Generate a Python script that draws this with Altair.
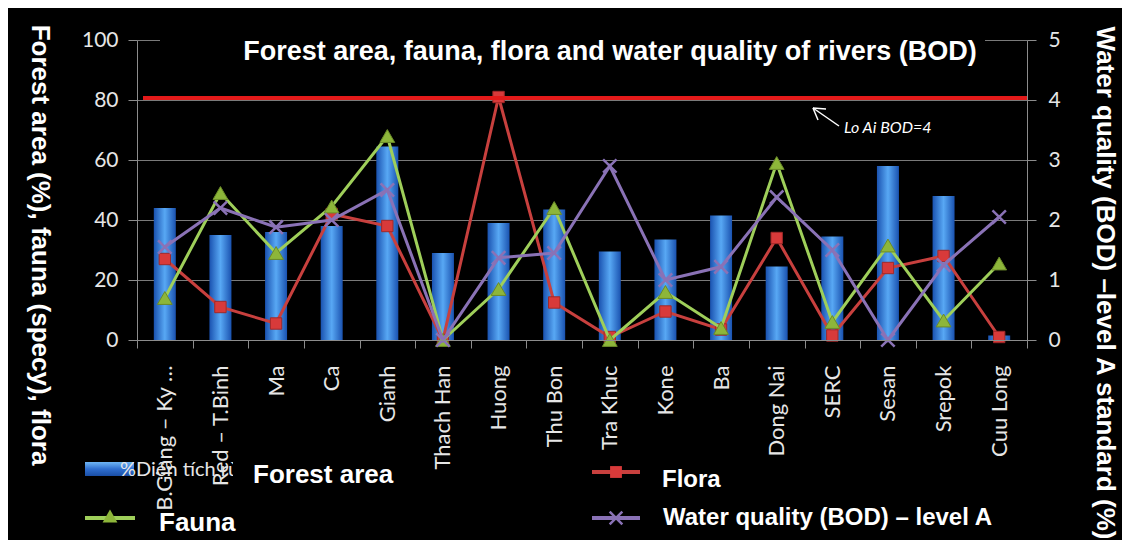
import altair as alt
import pandas as pd

rivers = ["B.Giang – Ky …", "Red – T.Binh", "Ma", "Ca", "Gianh", "Thach Han", "Huong",
          "Thu Bon", "Tra Khuc", "Kone", "Ba", "Dong Nai", "SERC", "Sesan", "Srepok", "Cuu Long"]
forest = [44, 35, 36, 38, 64.5, 29, 39, 43.5, 29.5, 33.5, 41.5, 24.5, 34.5, 58, 48, 1.5]
fauna = [14, 49, 29, 44.5, 68, 0, 17, 44, 0, 16, 4, 59, 6, 31.5, 6.5, 25.5]
flora = [27, 11, 5.5, 42, 38, 0, 81, 12.5, 1, 9.5, 3.5, 34, 1.5, 24, 28, 1]
bod = [1.55, 2.2, 1.88, 2.0, 2.5, 0, 1.37, 1.45, 2.9, 1.0, 1.22, 2.38, 1.5, 0, 1.25, 2.05]
bod_standard = 4.03

left_ticks = [0, 20, 40, 60, 80, 100]
right_ticks = [0, 1, 2, 3, 4, 5]
title_text = "Forest area, fauna, flora and water quality of rivers (BOD)"
left_title = "Forest area (%), fauna (specy), flora"
right_title = "Water quality (BOD) –level A standard (%)"
legend_labels = ["Forest area", "Fauna", "Flora", "Water quality (BOD) – level A"]
legend_hidden = "%Diện tích rừng"
annotation = "Lo Ai BOD=4"

df = pd.DataFrame({"river": rivers, "forest": forest, "fauna": fauna,
                   "flora": flora, "bod": bod})

W, H = 890, 300
GREEN, GREEN_M = "#9fcf5a", "#8db63a"
RED, RED_M = "#c8403e", "#d83a3a"
PURPLE = "#8a72b6"

xenc = alt.X("river:N", sort=rivers,
             scale=alt.Scale(paddingInner=0, paddingOuter=0),
             axis=alt.Axis(title=None, labelAngle=270, tickBand="extent",
                           labelFont="Lato", labelFontSize=22, labelColor="#e6e6e6",
                           labelPadding=17, tickSize=8, domainColor="#8c8c8c",
                           tickColor="#8c8c8c", labelLimit=300, zindex=1))

left_axis = alt.Axis(title=None, orient="left", values=left_ticks, grid=True,
                     gridColor="#7a7a7a", gridWidth=1, labelFont="Lato",
                     labelFontSize=21, labelColor="#e6e6e6", labelPadding=10,
                     tickSize=9, domainColor="#8c8c8c", tickColor="#8c8c8c")
right_axis = alt.Axis(title=None, orient="right", values=right_ticks, grid=False,
                      labelFont="Lato", labelFontSize=21, labelColor="#e6e6e6",
                      labelPadding=12, tickSize=9, domainColor="#8c8c8c",
                      tickColor="#8c8c8c")
lscale = alt.Scale(domain=[0, 100])
rscale = alt.Scale(domain=[0, 5])

def yl(field):
    return alt.Y(f"{field}:Q", scale=lscale, axis=left_axis)

def yr(field):
    return alt.Y(f"{field}:Q", scale=rscale, axis=right_axis)

bar_grad = alt.Gradient(gradient="linear", x1=0, x2=1, y1=0, y2=0,
                        stops=[alt.GradientStop(color="#1a52b0", offset=0),
                               alt.GradientStop(color="#58a8f4", offset=0.5),
                               alt.GradientStop(color="#1a52b0", offset=1)])

bars = alt.Chart(df).mark_bar(size=22, fill=bar_grad).encode(x=xenc, y=yl("forest"))
flora_line = alt.Chart(df).mark_line(color=RED, strokeWidth=3).encode(x=xenc, y=yl("flora"))
flora_pts = alt.Chart(df).mark_point(shape="square", filled=True, size=130, fill=RED_M,
                                     stroke="#a02828", strokeWidth=1, opacity=1).encode(x=xenc, y=yl("flora"))
fauna_line = alt.Chart(df).mark_line(color=GREEN, strokeWidth=3).encode(x=xenc, y=yl("fauna"))
fauna_pts = alt.Chart(df).mark_point(shape="triangle-up", filled=True, size=220, fill=GREEN_M,
                                     stroke="#6a8a28", strokeWidth=1, opacity=1).encode(x=xenc, y=yl("fauna"))

left = alt.layer(bars, flora_line, flora_pts)

std_rule = alt.Chart(df).mark_rule(color="#e31a1a", strokeWidth=3.5).encode(
    x=alt.value(6), x2=alt.value(W), y=alt.Y(datum=bod_standard, scale=rscale, axis=right_axis))
water_line = alt.Chart(df).mark_line(color=PURPLE, strokeWidth=3).encode(x=xenc, y=yr("bod"))
water_pts = alt.Chart(df).mark_point(shape="M-1,-1L1,1M1,-1L-1,1", filled=False, size=180,
                                     stroke=PURPLE, strokeWidth=2.5, opacity=1).encode(x=xenc, y=yr("bod"))
right = alt.layer(std_rule, water_line, water_pts)

left2 = alt.layer(fauna_line, fauna_pts)

one = alt.Data(values=[{"k": 1}])

def rect(x, x2, y, y2, fill="black"):
    return alt.Chart(one).mark_rect(fill=fill).encode(
        x=alt.value(x), x2=alt.value(x2), y=alt.value(y), y2=alt.value(y2))

def text(t, x, y, size, bold=True, angle=0, align="left", italic=False, color="white", font="Liberation Sans"):
    kw = dict(text=t, fontSize=size, font=font, color=color, align=align,
              baseline="middle", angle=angle)
    if bold:
        kw["fontWeight"] = "bold"
    if italic:
        kw["fontStyle"] = "italic"
    return alt.Chart(one).mark_text(**kw).encode(x=alt.value(x), y=alt.value(y))

def seg(x, x2, y, y2, color, w):
    return alt.Chart(one).mark_rule(color=color, strokeWidth=w).encode(
        x=alt.value(x), x2=alt.value(x2), y=alt.value(y), y2=alt.value(y2))

def sym(shape, x, y, size, fill=None, stroke=None, sw=1, filled=True):
    kw = dict(shape=shape, size=size, filled=filled, opacity=1, strokeWidth=sw)
    if fill:
        kw["fill"] = fill
    if stroke:
        kw["stroke"] = stroke
    return alt.Chart(one).mark_point(**kw).encode(x=alt.value(x), y=alt.value(y))

legend_grad = alt.Gradient(gradient="linear", x1=0, x2=0, y1=0, y2=1,
                           stops=[alt.GradientStop(color="#6fb6f5", offset=0),
                                  alt.GradientStop(color="#2f6fd0", offset=0.5),
                                  alt.GradientStop(color="#1a4ea6", offset=1)])

deco = [
    rect(23, 848, -18, 36),
    text(title_text, 473, 12, 27, align="center"),
    text(left_title, -97, 205, 26, angle=90, align="center"),
    text(right_title, 968, 243, 26, angle=90, align="center"),
    # annotation
    text(annotation, 707, 88, 16, bold=False, italic=True, font="Lato"),
    seg(702, 676, 86, 68, "white", 1.5),
    seg(676, 689, 68, 69, "white", 1.5),
    seg(676, 681, 68, 80, "white", 1.5),
    # legend
    alt.Chart(one).mark_rect(fill=legend_grad).encode(
        x=alt.value(-52), x2=alt.value(-3), y=alt.value(422), y2=alt.value(436)),
    text(legend_hidden, -17, 430, 20, bold=False, font="Lato", color="#e6e6e6"),
    rect(96, 283, 405, 457),
    text(legend_labels[0], 116, 435, 26),
    seg(-52, -2, 478, 478, GREEN, 4),
    sym("triangle-up", -27, 476, 220, fill=GREEN_M),
    text(legend_labels[1], 22, 483, 26),
    seg(455, 503, 432, 432, RED, 4),
    sym("square", 479, 432, 140, fill=RED_M),
    text(legend_labels[2], 525, 440, 24),
    seg(455, 503, 478, 478, PURPLE, 4),
    sym("M-1,-1L1,1M1,-1L-1,1", 479, 478, 160, stroke=PURPLE, sw=2.5, filled=False),
    text(legend_labels[3], 526, 478, 24),
]

chart = alt.layer(
    alt.layer(left, left2),
    right,
    *deco,
).resolve_scale(y="independent").properties(
    width=W, height=H, background="black",
    autosize=alt.AutoSizeParams(type="none"),
    padding={"left": 129, "top": 32, "right": 95, "bottom": 200},
).configure_view(stroke=None)

chart.save("out.html", embed_options={"renderer": "svg", "actions": False})
